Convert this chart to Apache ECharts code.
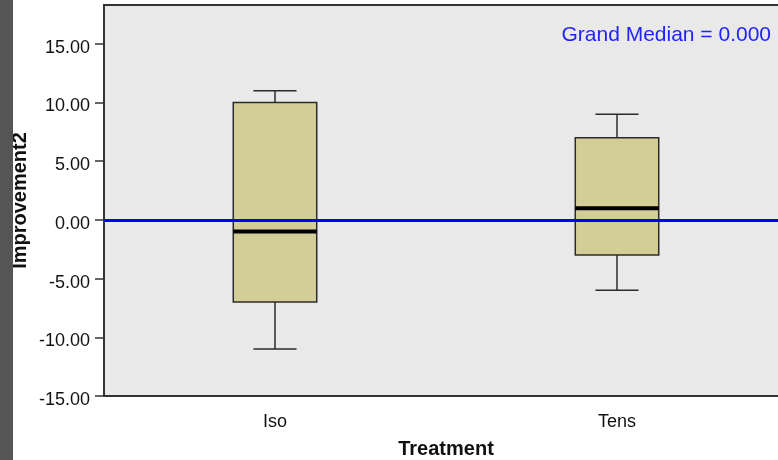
<!DOCTYPE html>
<html>
<head>
<meta charset="utf-8">
<script src="https://cdn.jsdelivr.net/npm/echarts@6/dist/echarts.min.js"></script>
<style>
  html, body { margin: 0; padding: 0; background: #ffffff; }
  #chart { width: 778px; height: 460px; }
</style>
</head>
<body>
<div id="chart"></div>
<script>
// Treatment groups on the category axis
const categories = ['Iso', 'Tens'];
// Five-number summaries per group: [min, Q1, median, Q3, max]
const whiskerLow = [-11, -6];
const quartile1 = [-7, -3];
const medians = [-1, 1];
const quartile3 = [10, 7];
const whiskerHigh = [11, 9];
// Grand median across both groups
const grandMedian = 0;
// Value-axis tick labels
const yTicks = [-15, -10, -5, 0, 5, 10, 15];

const boxData = categories.map((c, i) => [i, whiskerLow[i], quartile1[i], medians[i], quartile3[i], whiskerHigh[i]]);

const FONT = '"Liberation Sans", Arial, sans-serif';
const INK = '#2b2b2b';

function renderBox(params, api) {
  const xi = api.value(0);
  const pLow = api.coord([xi, api.value(1)]);
  const pQ1 = api.coord([xi, api.value(2)]);
  const pMed = api.coord([xi, api.value(3)]);
  const pQ3 = api.coord([xi, api.value(4)]);
  const pHigh = api.coord([xi, api.value(5)]);
  const band = api.size([1, 0])[0];
  const halfBox = band * 0.122;
  const halfCap = band * 0.063;
  const cx = pMed[0];
  const lineStyle = { stroke: INK, lineWidth: 1.5, fill: null };
  return {
    type: 'group',
    children: [
      { type: 'line', shape: { x1: cx, y1: pQ3[1], x2: cx, y2: pHigh[1] }, style: lineStyle },
      { type: 'line', shape: { x1: cx, y1: pQ1[1], x2: cx, y2: pLow[1] }, style: lineStyle },
      { type: 'line', shape: { x1: cx - halfCap, y1: pHigh[1], x2: cx + halfCap, y2: pHigh[1] }, style: lineStyle },
      { type: 'line', shape: { x1: cx - halfCap, y1: pLow[1], x2: cx + halfCap, y2: pLow[1] }, style: lineStyle },
      {
        type: 'rect',
        shape: { x: cx - halfBox, y: pQ3[1], width: halfBox * 2, height: pQ1[1] - pQ3[1] },
        style: { fill: '#d3ce98', stroke: INK, lineWidth: 1.5 }
      },
      { type: 'line', shape: { x1: cx - halfBox, y1: pMed[1], x2: cx + halfBox, y2: pMed[1] }, style: { stroke: '#000000', lineWidth: 4 } }
    ]
  };
}

const chart = echarts.init(document.getElementById('chart'), null, { renderer: 'canvas' });
chart.setOption({
  animation: false,
  backgroundColor: '#ffffff',
  grid: {
    left: 104, top: 5, width: 684, height: 391,
    containLabel: false,
    outerBoundsMode: 'none',
    show: true, backgroundColor: '#e9e9e9', borderColor: '#333333', borderWidth: 2
  },
  xAxis: {
    type: 'category',
    data: categories,
    boundaryGap: true,
    name: 'Treatment',
    nameLocation: 'middle',
    nameMoveOverlap: false,
    nameGap: 43,
    nameTextStyle: { fontFamily: FONT, fontSize: 20, fontWeight: 'bold', color: '#111111' },
    axisLine: { lineStyle: { color: '#333333', width: 2 } },
    axisTick: { alignWithLabel: true, length: 8, lineStyle: { color: '#333333', width: 1.5 } },
    axisLabel: { margin: 17, fontFamily: FONT, fontSize: 18, color: '#111111' },
    splitLine: { show: false }
  },
  yAxis: {
    type: 'value',
    min: -15,
    max: 18.3,
    interval: 5,
    name: 'Improvement2',
    nameLocation: 'middle',
    nameMoveOverlap: false,
    nameGap: 74,
    nameRotate: 90,
    nameTextStyle: { fontFamily: FONT, fontSize: 20, fontWeight: 'bold', color: '#111111' },
    axisLine: { show: true, lineStyle: { color: '#333333', width: 2 } },
    axisTick: { show: true, length: 9, customValues: yTicks, lineStyle: { color: '#333333', width: 1.5 } },
    axisLabel: {
      margin: 14,
      customValues: yTicks,
      formatter: v => '{v|' + v.toFixed(2) + '}',
      rich: {
        v: { fontFamily: FONT, fontSize: 18, color: '#111111', padding: [8, 0, 0, 0] }
      }
    },
    splitLine: { show: false }
  },
  graphic: [
    { type: 'rect', left: 0, top: 0, shape: { width: 13, height: 460 }, style: { fill: '#555555' }, z: 100 },
    {
      type: 'text', right: 7, top: 25, z: 100,
      style: { text: 'Grand Median = ' + grandMedian.toFixed(3), fill: '#2222ff', font: '21px ' + FONT }
    }
  ],
  series: [
    {
      type: 'custom',
      renderItem: renderBox,
      data: boxData,
      encode: { x: 0, y: [1, 2, 3, 4, 5] },
      z: 2
    },
    {
      type: 'line',
      data: [],
      z: 10,
      markLine: {
        silent: true,
        symbol: ['none', 'none'],
        label: { show: false },
        lineStyle: { color: '#0000ff', width: 3, type: 'solid' },
        data: [{ yAxis: grandMedian }]
      }
    }
  ]
});
</script>
</body>
</html>
